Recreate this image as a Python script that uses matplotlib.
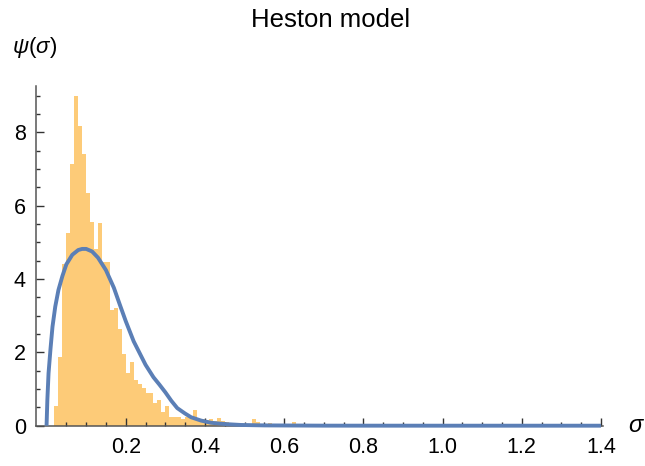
import matplotlib
matplotlib.use("Agg")
import matplotlib.pyplot as plt
from matplotlib.ticker import MultipleLocator, FixedLocator

plt.rcParams['font.family'] = ['Liberation Sans', 'DejaVu Sans']
plt.rcParams['mathtext.fontset'] = 'custom'
plt.rcParams['mathtext.rm'] = 'Liberation Sans'
plt.rcParams['mathtext.it'] = 'Liberation Sans:italic'

# histogram of simulated sigma, bins of width 0.01 starting at 0.02
bin_start = 0.02
bin_width = 0.01
hist_heights = [0.55, 1.88, 4.40, 5.26, 7.13, 8.99, 8.18, 7.41, 6.35, 5.56,
                4.81, 5.54, 4.45, 4.45, 3.15, 3.21, 2.65, 1.95, 1.43, 1.75,
                1.25, 1.15, 1.02, 0.88, 0.88, 0.61, 0.70, 0.38, 0.55, 0.25,
                0.23, 0.23, 0.17, 0.25, 0.25, 0.43, 0.15, 0.17, 0.15, 0.18,
                0.12, 0.22, 0.13, 0.11, 0.05, 0.04, 0.03, 0.04, 0.03, 0.05,
                0.18, 0.09, 0.02, 0.03, 0.07, 0.02, 0.00, 0.05, 0.00, 0.02,
                0.09]

# density curve psi(sigma)
curve_sigma = [0, 0.002, 0.005, 0.01, 0.015, 0.022, 0.03, 0.04, 0.05, 0.065,
               0.08, 0.09, 0.1, 0.115, 0.13, 0.15, 0.17, 0.185, 0.2, 0.22,
               0.235, 0.25, 0.27, 0.285, 0.3, 0.315, 0.33, 0.35, 0.365, 0.39,
               0.415, 0.45, 0.49, 0.55, 0.7, 1.0, 1.4]
curve_psi = [0, 0.70, 1.43, 2.10, 2.70, 3.25, 3.70, 4.08, 4.40, 4.66,
             4.79, 4.82, 4.82, 4.75, 4.58, 4.24, 3.76, 3.30, 2.85, 2.30,
             1.98, 1.66, 1.32, 1.12, 0.91, 0.68, 0.48, 0.33, 0.23, 0.14,
             0.08, 0.045, 0.02, 0.008, 0.001, 0, 0]

xticks = [0.2, 0.4, 0.6, 0.8, 1.0, 1.2, 1.4]
yticks = [0, 2, 4, 6, 8]

fig = plt.figure(figsize=(6.45, 4.66), dpi=100)
ax = fig.add_axes([0.0553, 0.0865, 0.8795, 0.728])

lefts = [bin_start + i * bin_width for i in range(len(hist_heights))]
ax.bar(lefts, hist_heights, width=bin_width, align='edge',
       color='#fdcb78', edgecolor='none', zorder=1)
ax.plot(curve_sigma, curve_psi, color='#5b7fb6', lw=2.8,
        solid_capstyle='butt', solid_joinstyle='round', zorder=3, clip_on=False)

ax.set_xlim(-0.0275, 1.405)
ax.set_ylim(0, 9.25)

for s in ['top', 'right']:
    ax.spines[s].set_visible(False)
for s in ['left', 'bottom']:
    ax.spines[s].set_color('#555555')
    ax.spines[s].set_linewidth(1.1)

ax.xaxis.set_major_locator(FixedLocator(xticks))
ax.xaxis.set_minor_locator(FixedLocator([0.05 * i for i in range(1, 28)]))
ax.yaxis.set_major_locator(FixedLocator(yticks))
ax.yaxis.set_minor_locator(MultipleLocator(0.5))
ax.set_xticklabels(['0.2', '0.4', '0.6', '0.8', '1.0', '1.2', '1.4'])

ax.tick_params(which='both', direction='in', color='#333333', width=1.0,
               labelsize=15.5)
ax.tick_params(which='major', length=5.5)
ax.tick_params(which='minor', length=3)
ax.tick_params(axis='x', pad=8)
ax.tick_params(axis='y', pad=7)

fig.text(0.512, 0.957, 'Heston model', ha='center', va='center', fontsize=18.5)
fig.text(12 / 645, 1 - 47 / 466, r'$\psi(\sigma)$', ha='left', va='center',
         fontsize=16)
fig.text(636 / 645, 1 - 426 / 466, r'$\sigma$', ha='center', va='center',
         fontsize=17)

fig.savefig('out.png', dpi=100)
